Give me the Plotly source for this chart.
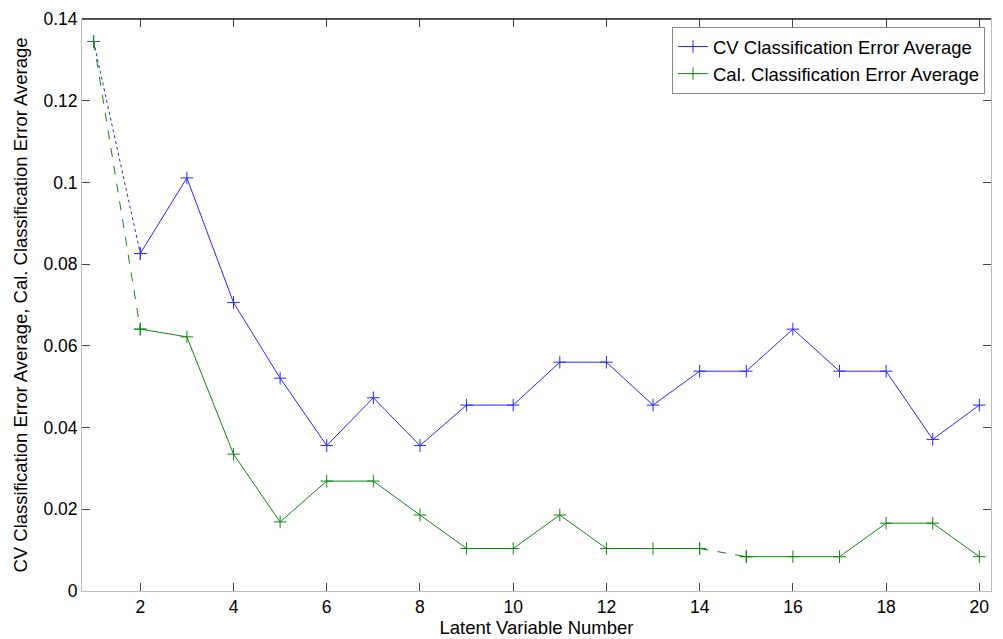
import plotly.graph_objects as go

latent = list(range(1, 21))
cv_err = [0.1345, 0.0826, 0.1011, 0.0706, 0.0521, 0.0356, 0.0473, 0.0356, 0.0455, 0.0455,
          0.0560, 0.0560, 0.0455, 0.0538, 0.0538, 0.0641, 0.0538, 0.0538, 0.0371, 0.0455]
cal_err = [0.1345, 0.0641, 0.0622, 0.0335, 0.0169, 0.0269, 0.0269, 0.0186, 0.0104, 0.0104,
           0.0186, 0.0104, 0.0104, 0.0104, 0.0084, 0.0084, 0.0084, 0.0166, 0.0166, 0.0084]
x_ticks = [2, 4, 6, 8, 10, 12, 14, 16, 18, 20]
y_ticks = [0, 0.02, 0.04, 0.06, 0.08, 0.1, 0.12, 0.14]

BLUE = "rgb(40,40,255)"
GREEN = "rgb(20,135,20)"
FONT = "Liberation Sans, Arial, sans-serif"

fig = go.Figure()


def seg(xs, ys, color, dash, name=None, legend=False):
    fig.add_trace(go.Scatter(
        x=xs, y=ys, mode="lines+markers",
        line=dict(color=color, width=1, dash=dash),
        marker=dict(symbol="cross-thin", size=9, line=dict(color=color, width=1), color=color),
        name=name, showlegend=legend, legendgroup=name or color,
    ))


# CV: first segment dotted, rest solid
seg(latent[0:2], cv_err[0:2], BLUE, "dot")
seg(latent[1:], cv_err[1:], BLUE, "solid", name="CV Classification Error Average", legend=True)
# Cal: first segment dashed, segment 14-15 dashed, rest solid
seg(latent[0:2], cal_err[0:2], GREEN, "dash")
seg(latent[1:14], cal_err[1:14], GREEN, "solid", name="Cal. Classification Error Average", legend=True)
seg(latent[13:15], cal_err[13:15], GREEN, "dash")
seg(latent[14:], cal_err[14:], GREEN, "solid")

axis_common = dict(
    showgrid=False, zeroline=False, showline=True, linecolor="#bdbdbd", linewidth=1,
    mirror="ticks", ticks="inside", ticklen=8, tickcolor="#444", tickwidth=1,
    tickfont=dict(family=FONT, size=17.5, color="#000"), automargin=False,
)

fig.update_layout(
    width=1003, height=639,
    margin=dict(l=82, r=12, t=19, b=48),
    paper_bgcolor="white", plot_bgcolor="white",
    font=dict(family=FONT, color="#000"),
    xaxis=dict(range=[0.75, 20.25], tickvals=x_ticks,
               title=dict(text="Latent Variable Number", font=dict(size=18.5), standoff=5),
               **axis_common),
    yaxis=dict(range=[0, 0.14], tickvals=y_ticks,
               ticktext=["0", "0.02", "0.04", "0.06", "0.08", "0.1", "0.12", "0.14"],
               title=dict(text="CV Classification Error Average, Cal. Classification Error Average",
                          font=dict(size=18.5), standoff=10),
               **axis_common),
    legend=dict(x=0.9934, y=0.986, xanchor="right", yanchor="top",
                bgcolor="white", bordercolor="#888", borderwidth=1,
                font=dict(family=FONT, size=18.5), tracegroupgap=0),
    showlegend=True,
    shapes=[
        dict(type="line", xref="paper", yref="paper", x0=0, x1=1, y0=1, y1=1,
             line=dict(color="#222", width=1.5)),
    ],
)

fig.write_html("out.html")
